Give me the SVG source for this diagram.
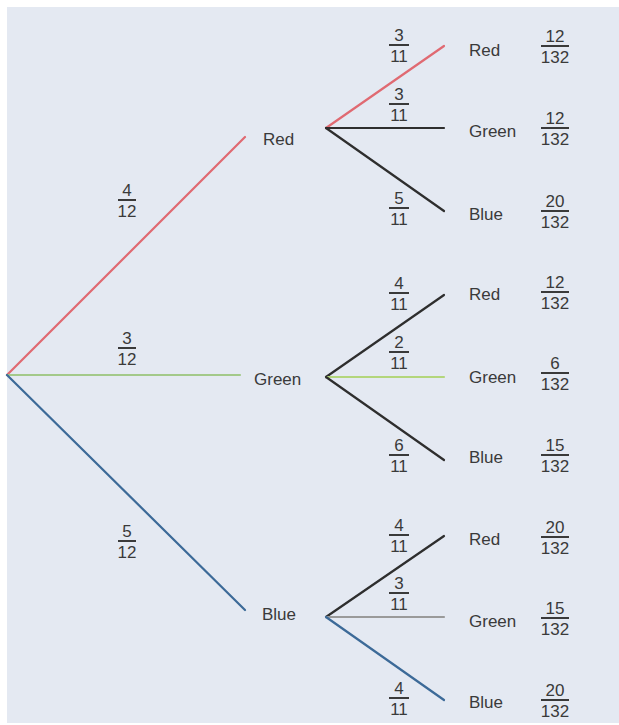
<svg xmlns="http://www.w3.org/2000/svg" width="619" height="725" viewBox="0 0 619 725">
<style>
.t{font-family:"Liberation Sans",Arial,sans-serif;font-size:17px;fill:#3a3a3a}
.f{font-family:"Liberation Sans",Arial,sans-serif;font-size:17px;fill:#3a3a3a;text-anchor:middle}
.bar{stroke:#3a3a3a;stroke-width:2}
.e{fill:none;stroke-width:2.2;stroke-linecap:round}
.red{stroke:#e06a72}.grn{stroke:#a3c98a}.lgrn{stroke:#b3d67c}.blu{stroke:#3c6a98}.blk{stroke:#2e2e2e}.gry{stroke:#9a9a9a}
</style>
<rect x="0" y="0" width="619" height="725" fill="#ffffff"/>
<rect x="7" y="7" width="612" height="716" fill="#e4e9f2"/>
<g id="connectors">
<line class="e red" x1="7" y1="375" x2="245" y2="137"/>
<line class="e grn" x1="7" y1="375" x2="240" y2="375"/>
<line class="e blu" x1="7" y1="375" x2="245" y2="610"/>
<line class="e red" x1="326" y1="128" x2="444" y2="46"/>
<line class="e blk" x1="326" y1="128" x2="444" y2="128"/>
<line class="e blk" x1="326" y1="128" x2="444" y2="211"/>
<line class="e blk" x1="326" y1="377" x2="444" y2="295"/>
<line class="e lgrn" x1="326" y1="377" x2="444" y2="377"/>
<line class="e blk" x1="326" y1="377" x2="444" y2="460"/>
<line class="e blk" x1="326" y1="617" x2="444" y2="536"/>
<line class="e gry" x1="326" y1="617" x2="444" y2="617"/>
<line class="e blu" x1="326" y1="617" x2="444" y2="700"/>
</g>
<g id="p1-red"><text class="f" x="127" y="196">4</text><line class="bar" x1="118" y1="200" x2="136" y2="200"/><text class="f" x="127" y="217">12</text></g>
<g id="p1-green"><text class="f" x="127" y="344">3</text><line class="bar" x1="118" y1="348" x2="136" y2="348"/><text class="f" x="127" y="365">12</text></g>
<g id="p1-blue"><text class="f" x="127" y="537">5</text><line class="bar" x1="118" y1="541" x2="136" y2="541"/><text class="f" x="127" y="558">12</text></g>
<g id="n-red"><text class="t" x="263" y="145">Red</text></g>
<g id="n-green"><text class="t" x="254" y="385">Green</text></g>
<g id="n-blue"><text class="t" x="262" y="620">Blue</text></g>
<g id="p2-rr"><text class="f" x="399" y="41">3</text><line class="bar" x1="389" y1="45" x2="409" y2="45"/><text class="f" x="399" y="62">11</text></g>
<g id="p2-rg"><text class="f" x="399" y="100">3</text><line class="bar" x1="389" y1="104" x2="409" y2="104"/><text class="f" x="399" y="121">11</text></g>
<g id="p2-rb"><text class="f" x="399" y="204">5</text><line class="bar" x1="389" y1="208" x2="409" y2="208"/><text class="f" x="399" y="225">11</text></g>
<g id="p2-gr"><text class="f" x="399" y="289">4</text><line class="bar" x1="389" y1="293" x2="409" y2="293"/><text class="f" x="399" y="310">11</text></g>
<g id="p2-gg"><text class="f" x="399" y="348">2</text><line class="bar" x1="389" y1="352" x2="409" y2="352"/><text class="f" x="399" y="369">11</text></g>
<g id="p2-gb"><text class="f" x="399" y="451">6</text><line class="bar" x1="389" y1="455" x2="409" y2="455"/><text class="f" x="399" y="472">11</text></g>
<g id="p2-br"><text class="f" x="399" y="531">4</text><line class="bar" x1="389" y1="535" x2="409" y2="535"/><text class="f" x="399" y="552">11</text></g>
<g id="p2-bg"><text class="f" x="399" y="589">3</text><line class="bar" x1="389" y1="593" x2="409" y2="593"/><text class="f" x="399" y="610">11</text></g>
<g id="p2-bb"><text class="f" x="399" y="694">4</text><line class="bar" x1="389" y1="698" x2="409" y2="698"/><text class="f" x="399" y="715">11</text></g>
<g id="n-rr"><text class="t" x="469" y="56">Red</text></g>
<g id="n-rg"><text class="t" x="469" y="137">Green</text></g>
<g id="n-rb"><text class="t" x="469" y="220">Blue</text></g>
<g id="n-gr"><text class="t" x="469" y="300">Red</text></g>
<g id="n-gg"><text class="t" x="469" y="383">Green</text></g>
<g id="n-gb"><text class="t" x="469" y="463">Blue</text></g>
<g id="n-br"><text class="t" x="469" y="545">Red</text></g>
<g id="n-bg"><text class="t" x="469" y="627">Green</text></g>
<g id="n-bb"><text class="t" x="469" y="708">Blue</text></g>
<g id="r-rr"><text class="f" x="555" y="42">12</text><line class="bar" x1="541" y1="46" x2="569" y2="46"/><text class="f" x="555" y="63">132</text></g>
<g id="r-rg"><text class="f" x="555" y="124">12</text><line class="bar" x1="541" y1="128" x2="569" y2="128"/><text class="f" x="555" y="145">132</text></g>
<g id="r-rb"><text class="f" x="555" y="207">20</text><line class="bar" x1="541" y1="211" x2="569" y2="211"/><text class="f" x="555" y="228">132</text></g>
<g id="r-gr"><text class="f" x="555" y="288">12</text><line class="bar" x1="541" y1="292" x2="569" y2="292"/><text class="f" x="555" y="309">132</text></g>
<g id="r-gg"><text class="f" x="555" y="369">6</text><line class="bar" x1="541" y1="373" x2="569" y2="373"/><text class="f" x="555" y="390">132</text></g>
<g id="r-gb"><text class="f" x="555" y="451">15</text><line class="bar" x1="541" y1="455" x2="569" y2="455"/><text class="f" x="555" y="472">132</text></g>
<g id="r-br"><text class="f" x="555" y="533">20</text><line class="bar" x1="541" y1="537" x2="569" y2="537"/><text class="f" x="555" y="554">132</text></g>
<g id="r-bg"><text class="f" x="555" y="614">15</text><line class="bar" x1="541" y1="618" x2="569" y2="618"/><text class="f" x="555" y="635">132</text></g>
<g id="r-bb"><text class="f" x="555" y="696">20</text><line class="bar" x1="541" y1="700" x2="569" y2="700"/><text class="f" x="555" y="717">132</text></g>
</svg>
